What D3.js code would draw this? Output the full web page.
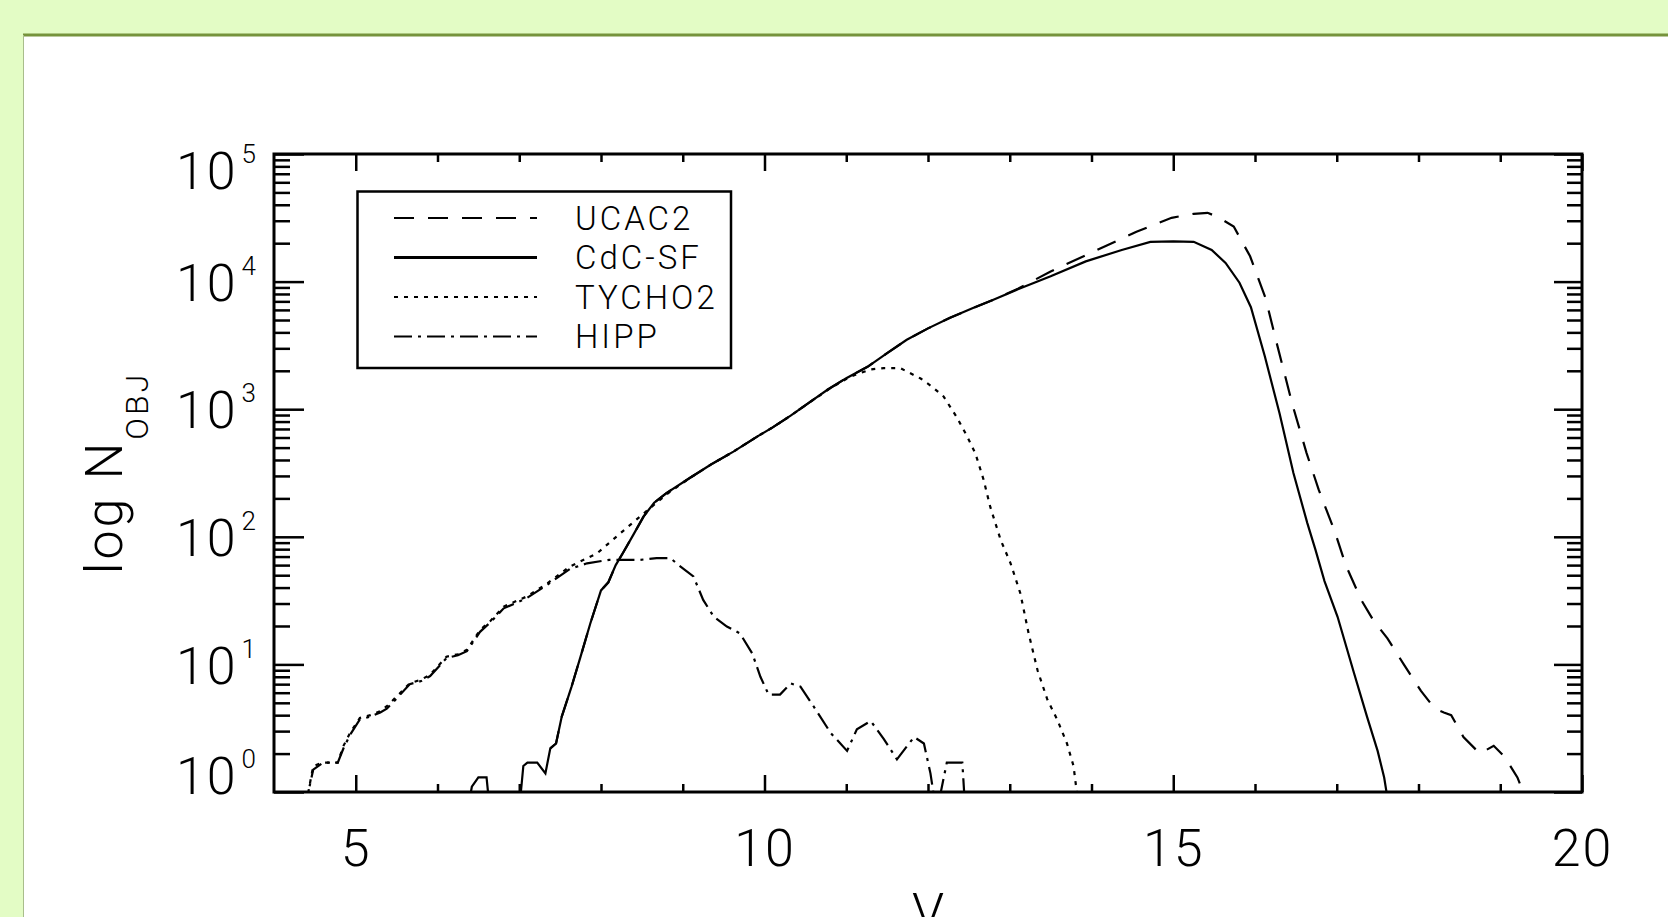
<!DOCTYPE html>
<html>
<head>
<meta charset="utf-8">
<script src="https://cdn.jsdelivr.net/npm/d3@7"></script>
<style>
  html, body { margin: 0; padding: 0; background: #e3fcc5; overflow: hidden; }
  svg { display: block; }
  text { font-family: Roboto, "Liberation Sans", sans-serif; font-weight: 300; fill: #000; }
</style>
</head>
<body>
<svg id="mainsvg" width="1668" height="917"></svg>
<script>
// series: [V magnitude, number of objects]; values < 1 fall below the axis and get clipped
const cdcsf = [
  [6.30, 0.4], [6.42, 1.1], [6.50, 1.3], [6.60, 1.3], [6.68, 0.4], [6.95, 0.4], [7.02, 1.0],
  [7.05, 1.6], [7.10, 1.7], [7.22, 1.7], [7.32, 1.4], [7.38, 2.2], [7.45, 2.4], [7.52, 3.9],
  [7.64, 6.7], [7.75, 11.5], [7.87, 21], [8.00, 38], [8.09, 44], [8.18, 60], [8.27, 75],
  [8.40, 105], [8.52, 144], [8.65, 185], [8.80, 220], [9.09, 290], [9.35, 370], [9.62, 465],
  [9.91, 610], [10.10, 720], [10.32, 890], [10.55, 1130], [10.77, 1420], [11.00, 1750],
  [11.26, 2150], [11.50, 2750], [11.74, 3500], [12.00, 4300], [12.27, 5200], [12.55, 6200],
  [12.80, 7200], [13.10, 8700], [13.50, 11000], [13.93, 14400], [14.37, 17700], [14.72, 20500],
  [15.00, 20700], [15.25, 20500], [15.47, 17700], [15.64, 14000], [15.81, 9800], [15.95, 6300],
  [16.12, 2600], [16.30, 930], [16.47, 316], [16.64, 128], [16.74, 79], [16.85, 45],
  [17.01, 23.6], [17.21, 8.6], [17.37, 3.9], [17.50, 2.1], [17.58, 1.3], [17.62, 0.9], [17.70, 0.3]
];
const ucac2 = [
  [7.38, 2.2], [7.45, 2.4], [7.52, 3.9], [7.64, 6.7], [7.75, 11.5], [7.87, 21], [8.00, 38],
  [8.09, 44], [8.18, 60], [8.27, 75], [8.40, 105], [8.52, 144], [8.65, 185], [8.80, 220],
  [9.09, 290], [9.35, 370], [9.62, 465], [9.91, 610], [10.10, 720], [10.32, 890], [10.55, 1130],
  [10.77, 1420], [11.00, 1750], [11.26, 2150], [11.50, 2750], [11.74, 3500], [12.00, 4300],
  [12.27, 5200], [12.55, 6200], [12.80, 7200], [13.10, 8800], [13.50, 12000], [14.07, 17700],
  [14.55, 24600], [14.98, 31600], [15.25, 34000], [15.42, 34600], [15.55, 32000], [15.74, 27000],
  [15.94, 15800], [16.13, 7400], [16.26, 3400], [16.46, 1075], [16.63, 455], [16.78, 233],
  [16.98, 108], [17.11, 60], [17.30, 32], [17.45, 22], [17.62, 16], [17.82, 10], [18.03, 6.2],
  [18.20, 4.5], [18.31, 4.2], [18.40, 4.0], [18.55, 2.7], [18.75, 2.0], [18.92, 2.3],
  [19.05, 1.9], [19.21, 1.3], [19.28, 1.0], [19.35, 0.5]
];
const tycho2 = [
  [4.35, 0.4], [4.42, 1.0], [4.48, 1.6], [4.60, 1.7], [4.78, 1.7], [4.85, 2.3], [4.93, 2.9],
  [5.05, 3.8], [5.18, 4.0], [5.30, 4.3], [5.38, 4.7], [5.50, 5.6], [5.66, 7.1], [5.80, 7.6],
  [5.91, 8.3], [6.11, 11.5], [6.25, 12.0], [6.36, 13], [6.52, 18.6], [6.65, 22], [6.81, 28.4],
  [7.09, 34], [7.34, 43], [7.62, 58.5], [7.95, 74], [8.24, 107], [8.52, 152], [8.80, 215],
  [9.09, 290], [9.35, 370], [9.62, 465], [9.91, 610], [10.10, 720], [10.32, 890], [10.55, 1130],
  [10.80, 1450], [11.05, 1800], [11.30, 2050], [11.46, 2100], [11.66, 2100], [11.91, 1740],
  [12.05, 1500], [12.19, 1260], [12.35, 870], [12.48, 610], [12.58, 450], [12.68, 280],
  [12.76, 173], [12.89, 94], [13.01, 62], [13.13, 36], [13.23, 17.6], [13.34, 9], [13.46, 5.3],
  [13.58, 3.7], [13.70, 2.4], [13.78, 1.6], [13.82, 1.0], [13.86, 0.5]
];
const hipp = [
  [4.35, 0.4], [4.42, 1.0], [4.48, 1.5], [4.60, 1.7], [4.78, 1.7], [4.85, 2.2], [4.93, 2.8],
  [5.05, 3.7], [5.18, 3.9], [5.30, 4.2], [5.38, 4.5], [5.50, 5.4], [5.66, 7.0], [5.80, 7.4],
  [5.91, 8.1], [6.11, 11.2], [6.25, 11.8], [6.36, 12.7], [6.52, 18], [6.65, 21.5], [6.81, 27.5],
  [7.09, 33], [7.34, 42], [7.62, 56], [7.83, 62], [8.10, 66], [8.48, 66], [8.68, 68], [8.85, 68],
  [8.95, 60], [9.13, 49], [9.25, 32], [9.38, 23.6], [9.54, 19.8], [9.70, 17.5], [9.85, 12.2],
  [9.95, 8], [10.05, 5.8], [10.19, 5.8], [10.32, 7.1], [10.44, 6.7], [10.60, 4.7], [10.81, 2.9],
  [11.01, 2.1], [11.13, 3.1], [11.30, 3.6], [11.46, 2.6], [11.62, 1.8], [11.83, 2.7], [11.95, 2.4],
  [12.03, 1.4], [12.07, 0.95], [12.15, 0.95], [12.23, 1.7], [12.42, 1.7], [12.48, 0.4]
];

const seriesNames = ['UCAC2', 'CdC-SF', 'TYCHO2', 'HIPP'];
const xLabelTicks = [5, 10, 15, 20];
const yDecades = [1, 10, 100, 1000, 10000, 100000];

(function () {
  const svg = d3.select('#mainsvg'),
    width = Number(svg.attr('width')),
    height = Number(svg.attr('height')),
    margin = { top: 154, right: 86, bottom: 125, left: 274 },
    x0 = margin.left, x1 = width - margin.right,
    y0 = margin.top, y1 = height - margin.bottom;

  // page panel
  svg.append('rect').attr('x', 24).attr('y', 36).attr('width', width - 24).attr('height', height - 36).attr('fill', '#fff');
  svg.append('line').attr('x1', 23).attr('x2', width).attr('y1', 35).attr('y2', 35)
    .attr('stroke', '#76933c').attr('stroke-width', 3);
  svg.append('line').attr('x1', 23.5).attr('x2', 23.5).attr('y1', 35).attr('y2', height)
    .attr('stroke', '#a9bd8c').attr('stroke-width', 1);

  const xScale = d3.scaleLinear().domain([4, 20]).range([x0, x1]);
  const yScale = d3.scaleLog().domain([1, 1e5]).range([y1, y0]);

  svg.append('clipPath').attr('id', 'plotclip')
    .append('rect').attr('x', x0).attr('y', y0).attr('width', x1 - x0).attr('height', y1 - y0);

  const line = d3.line().x(d => xScale(d[0])).y(d => yScale(d[1]));

  const styles = {
    'UCAC2': { data: ucac2, dash: '20,14' },
    'CdC-SF': { data: cdcsf, dash: null },
    'TYCHO2': { data: tycho2, dash: '4,6' },
    'HIPP': { data: hipp, dash: '18,6,3,6' }
  };

  const plot = svg.append('g').attr('clip-path', 'url(#plotclip)');
  ['UCAC2', 'TYCHO2', 'HIPP', 'CdC-SF'].forEach(name => {
    plot.append('path')
      .attr('d', line(styles[name].data))
      .attr('fill', 'none')
      .attr('stroke', '#000')
      .attr('stroke-width', 2.2)
      .attr('stroke-dasharray', styles[name].dash);
  });

  // minor tick values
  const yMinor = [];
  yDecades.slice(0, -1).forEach(d => { for (let k = 2; k <= 9; k++) yMinor.push(d * k); });
  const xMinor = d3.range(5, 21).filter(v => xLabelTicks.indexOf(v) < 0);

  const clean = g => {
    g.select('.domain').remove();
    g.selectAll('.tick line').attr('stroke-width', 2.5).attr('stroke', '#000');
  };

  // left axis
  svg.append('g').attr('transform', `translate(${x0},0)`)
    .call(d3.axisLeft(yScale).tickValues(yMinor).tickSizeInner(-16).tickSizeOuter(0).tickFormat(''))
    .call(clean);
  const yAxisG = svg.append('g').attr('transform', `translate(${x0},0)`)
    .call(d3.axisLeft(yScale).tickValues(yDecades).tickSizeInner(-30).tickSizeOuter(0).tickPadding(16).tickFormat(() => '10'))
    .call(clean);
  yAxisG.selectAll('.tick text')
    .attr('font-size', 52)
    .attr('letter-spacing', 2)
    .attr('dy', '0.36em')
    .attr('y', d => {
      const p = yScale(d);
      return Math.min(Math.max(p, y0 + 16), y1 - 17) - p;
    })
    .each(function (d) {
      d3.select(this).append('tspan')
        .attr('dx', 4).attr('dy', -26).attr('font-size', 26)
        .text(Math.round(Math.log10(d)));
    });

  // right axis
  svg.append('g').attr('transform', `translate(${x1},0)`)
    .call(d3.axisRight(yScale).tickValues(yMinor).tickSizeInner(-15).tickSizeOuter(0).tickFormat(''))
    .call(clean);
  svg.append('g').attr('transform', `translate(${x1},0)`)
    .call(d3.axisRight(yScale).tickValues(yDecades).tickSizeInner(-28).tickSizeOuter(0).tickFormat(''))
    .call(clean);

  // bottom axis
  svg.append('g').attr('transform', `translate(0,${y1})`)
    .call(d3.axisBottom(xScale).tickValues(xMinor).tickSizeInner(-8).tickSizeOuter(0).tickFormat(''))
    .call(clean);
  svg.append('g').attr('transform', `translate(0,${y1})`)
    .call(d3.axisBottom(xScale).tickValues(xLabelTicks).tickSizeInner(-17).tickSizeOuter(0).tickPadding(37))
    .call(clean)
    .selectAll('.tick text').attr('font-size', 52).attr('letter-spacing', 2);

  // top axis
  svg.append('g').attr('transform', `translate(0,${y0})`)
    .call(d3.axisTop(xScale).tickValues(xMinor).tickSizeInner(-8).tickSizeOuter(0).tickFormat(''))
    .call(clean);
  svg.append('g').attr('transform', `translate(0,${y0})`)
    .call(d3.axisTop(xScale).tickValues(xLabelTicks).tickSizeInner(-17).tickSizeOuter(0).tickFormat(''))
    .call(clean);

  // frame
  svg.append('rect').attr('x', x0).attr('y', y0).attr('width', x1 - x0).attr('height', y1 - y0)
    .attr('fill', 'none').attr('stroke', '#000').attr('stroke-width', 3);

  // axis titles
  svg.append('text').attr('x', (x0 + x1) / 2).attr('y', 930)
    .attr('text-anchor', 'middle').attr('font-size', 52).text('V');

  const yt = svg.append('text')
    .attr('transform', `translate(122,${(y0 + y1) / 2}) rotate(-90)`)
    .attr('text-anchor', 'middle').attr('font-size', 52).attr('letter-spacing', 3);
  yt.append('tspan').text('log');
  yt.append('tspan').attr('dx', 16).text('N');
  yt.append('tspan').attr('dy', 26).attr('font-size', 32).text('OBJ');

  // legend
  const lg = svg.append('g');
  lg.append('rect').attr('x', 357.5).attr('y', 191.5).attr('width', 373.5).attr('height', 176.5)
    .attr('fill', 'none').attr('stroke', '#000').attr('stroke-width', 2.5);
  seriesNames.forEach((name, i) => {
    const yy = 218 + i * 39.5;
    lg.append('line').attr('x1', 394).attr('x2', 537).attr('y1', yy).attr('y2', yy)
      .attr('stroke', '#000').attr('stroke-width', name === 'CdC-SF' ? 3 : 2.2)
      .attr('stroke-dasharray', styles[name].dash);
    lg.append('text').attr('x', 575).attr('y', yy).attr('dy', '0.36em')
      .attr('font-size', 33).attr('letter-spacing', 3).text(name);
  });
})();
</script>
</body>
</html>
